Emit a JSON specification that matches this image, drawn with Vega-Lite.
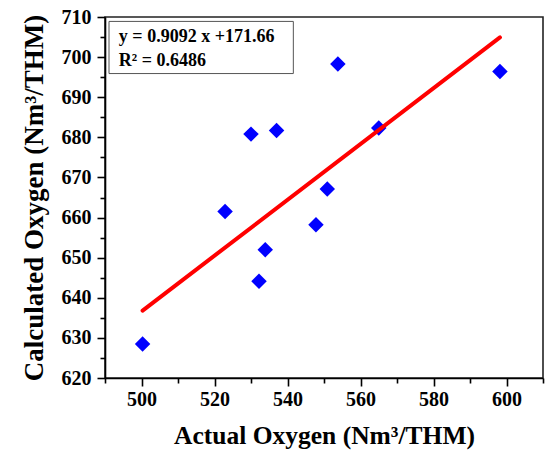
{
  "$schema": "https://vega.github.io/schema/vega-lite/v6.json",
  "width": 438,
  "height": 361,
  "autosize": "none",
  "padding": {"left": 105, "top": 17, "right": 6, "bottom": 73},
  "background": "white",
  "config": {
    "view": {"stroke": "#222222", "strokeWidth": 1.6},
    "font": "Liberation Serif"
  },
  "resolve": {"axis": {"x": "independent", "y": "independent"}},
  "datasets": {
    "points": [
      {"actual": 500.3, "calculated": 628.5},
      {"actual": 522.9, "calculated": 661.5},
      {"actual": 530.0, "calculated": 680.8},
      {"actual": 532.2, "calculated": 644.1},
      {"actual": 533.9, "calculated": 652.0},
      {"actual": 537.0, "calculated": 681.7},
      {"actual": 547.8, "calculated": 658.2},
      {"actual": 550.9, "calculated": 667.1},
      {"actual": 553.8, "calculated": 698.3},
      {"actual": 565.0, "calculated": 682.3},
      {"actual": 598.2, "calculated": 696.4}
    ],
    "fit": [
      {"actual": 500.3, "calculated": 636.8},
      {"actual": 598.2, "calculated": 704.9}
    ],
    "box": [
      {"x1": 491.1, "x2": 541.6, "y1": 708.9, "y2": 695.9}
    ],
    "labels": [
      {"x": 493.8, "y": 703.7, "text": "y = 0.9092 x +171.66"},
      {"x": 493.8, "y": 697.7, "text": "R² = 0.6486"}
    ]
  },
  "layer": [
    {
      "data": {"name": "points"},
      "mark": {"type": "point", "shape": "diamond", "filled": true, "color": "#0000ff", "opacity": 1, "size": 240},
      "encoding": {
        "x": {
          "field": "actual", "type": "quantitative",
          "scale": {"domain": [490, 610], "nice": false, "zero": false},
          "axis": {
            "orient": "bottom",
            "title": "Actual Oxygen (Nm³/THM)",
            "values": [500, 520, 540, 560, 580, 600],
            "grid": false,
            "domainColor": "black", "domainWidth": 1.6,
            "tickColor": "black", "tickWidth": 1.6,
            "tickSize": 8,
            "labelFont": "Liberation Serif", "labelFontWeight": "bold", "labelFontSize": 20, "labelColor": "black",
            "labelPadding": 3,
            "titleFont": "Liberation Serif", "titleFontWeight": "bold", "titleFontSize": 25.5, "titleColor": "black",
            "titlePadding": 14
          }
        },
        "y": {
          "field": "calculated", "type": "quantitative",
          "scale": {"domain": [620, 710], "nice": false, "zero": false},
          "axis": {
            "orient": "left",
            "title": "Calculated Oxygen (Nm³/THM)",
            "values": [620, 630, 640, 650, 660, 670, 680, 690, 700, 710],
            "grid": false,
            "domainColor": "black", "domainWidth": 1.6,
            "tickColor": "black", "tickWidth": 1.6,
            "tickSize": 8,
            "labelFont": "Liberation Serif", "labelFontWeight": "bold", "labelFontSize": 20, "labelColor": "black",
            "labelPadding": 6,
            "titleFont": "Liberation Serif", "titleFontWeight": "bold", "titleFontSize": 27, "titleColor": "black",
            "titlePadding": 13
          }
        }
      }
    },
    {
      "data": {"name": "box"},
      "mark": {"type": "rect", "fill": "white", "stroke": "#555555", "strokeWidth": 1},
      "encoding": {
        "x": {"field": "x1", "type": "quantitative", "axis": {
            "orient": "bottom", "title": null, "labels": false, "domain": false, "grid": false,
            "values": [490, 510, 530, 550, 570, 590, 610],
            "tickColor": "black", "tickWidth": 1.6, "tickSize": 5}},
        "x2": {"field": "x2"},
        "y": {"field": "y1", "type": "quantitative", "axis": {
            "orient": "left", "title": null, "labels": false, "domain": false, "grid": false,
            "values": [625, 635, 645, 655, 665, 675, 685, 695, 705],
            "tickColor": "black", "tickWidth": 1.6, "tickSize": 5}},
        "y2": {"field": "y2"}
      }
    },
    {
      "data": {"name": "labels"},
      "mark": {"type": "text", "align": "left", "baseline": "alphabetic", "font": "Liberation Serif", "fontWeight": "bold", "fontSize": 18, "color": "black"},
      "encoding": {
        "x": {"field": "x", "type": "quantitative", "axis": null},
        "y": {"field": "y", "type": "quantitative", "axis": null},
        "text": {"field": "text"}
      }
    },
    {
      "data": {"name": "fit"},
      "mark": {"type": "line", "color": "#ff0000", "strokeWidth": 4, "strokeCap": "round"},
      "encoding": {
        "x": {"field": "actual", "type": "quantitative", "axis": null},
        "y": {"field": "calculated", "type": "quantitative", "axis": null}
      }
    }
  ]
}
